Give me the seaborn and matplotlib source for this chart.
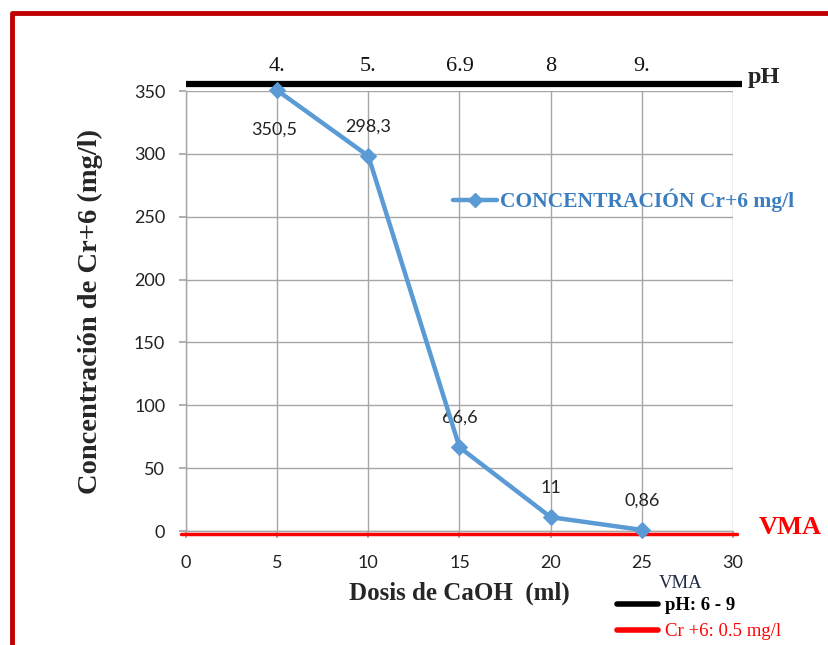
import matplotlib
matplotlib.use("Agg")
import matplotlib.pyplot as plt
import seaborn as sns
import pandas as pd
from matplotlib.lines import Line2D

dosis = [5, 10, 15, 20, 25]
concentracion = [350.5, 298.3, 66.6, 11, 0.86]
etiquetas = ["350,5", "298,3", "66,6", "11", "0,86"]
ph_labels = ["4.", "5.", "6.9", "8", "9."]
x_ticks = [0, 5, 10, 15, 20, 25, 30]
y_ticks = [0, 50, 100, 150, 200, 250, 300, 350]

sns.set_theme(style="white")
plt.rcParams['font.family'] = ['Lato', 'DejaVu Sans']

BLUE = "#5B9BD5"
BLUE_TXT = "#3A7DC0"
SERIF = "Liberation Serif"

fig = plt.figure(figsize=(8.29, 6.45), dpi=100)
ax = fig.add_axes([186/829, 114/645, 547/829, 440/645])

df = pd.DataFrame({"Dosis": dosis, "Conc": concentracion})
sns.lineplot(data=df, x="Dosis", y="Conc", ax=ax, color=BLUE, lw=3.2,
             marker="D", markersize=8, markeredgecolor=BLUE, clip_on=False, zorder=5)

ax.set_xlim(0, 30)
ax.set_ylim(0, 350)
ax.set_xticks(x_ticks)
ax.set_yticks(y_ticks)
ax.grid(True, color="#A6A6A6", lw=1)
for s in ["top", "right"]:
    ax.spines[s].set_visible(False)
for s in ["left", "bottom"]:
    ax.spines[s].set_color("#A6A6A6")
    ax.spines[s].set_linewidth(1)
ax.tick_params(axis="both", which="both", direction="out", length=5, color="#A6A6A6",
               labelsize=13, labelcolor="#222222", left=True, bottom=True)
ax.tick_params(axis="x", pad=12)
ax.tick_params(axis="y", pad=10)
ax.set_xlabel("Dosis de CaOH  (ml)", family=SERIF, fontsize=18, fontweight="bold", labelpad=8)
ax.set_ylabel("Concentración de Cr+6 (mg/l)", family=SERIF, fontsize=20.5, fontweight="bold", labelpad=22)

# data labels
offsets = [(-2, -28), (0, 21), (0, 21.5), (0, 21), (0, 21)]
for x, y, t, (dx, dy) in zip(dosis, concentracion, etiquetas, offsets):
    ax.annotate(t, (x, y), xytext=(dx, dy), textcoords="offset points", annotation_clip=False,
                ha="center", va="center", fontsize=13, color="#222222")

# pH bar on top
ax.plot([0, 30.5], [355.8, 355.8], color="black", lw=4.5, clip_on=False, solid_capstyle="butt")
for x, t in zip(dosis, ph_labels):
    ax.text(x, 362, t, family=SERIF, fontsize=16, ha="center", va="bottom", color="#111111")
ax.text(30.8, 361, "pH", family=SERIF, fontsize=17.5, fontweight="bold", ha="left", va="center")

# VMA red line
ax.plot([-0.3, 30.2], [-2.5, -2.5], color="red", lw=2.5, clip_on=False, zorder=4)
ax.text(31.4, 3, "VMA", family=SERIF, fontsize=19, fontweight="bold", color="red",
        ha="left", va="center")

# series legend
ly = 1 - 200/645
fig.add_artist(Line2D([453/829, 475/829, 497/829], [ly, ly, ly], color=BLUE, lw=3.2,
                      marker="D", markersize=7, markevery=[1], transform=fig.transFigure))
fig.text(500/829, ly, "CONCENTRACIÓN Cr+6 mg/l", family=SERIF, fontsize=15.5,
         fontweight="bold", color=BLUE_TXT, ha="left", va="center")

# VMA legend bottom
fig.text(681/829, 1 - 584/645, "VMA", family=SERIF, fontsize=13.5, color="#1F2A44", ha="center", va="center")
fig.add_artist(Line2D([617/829, 658/829], [1 - 604/645, 1 - 604/645], color="black", lw=4,
                      transform=fig.transFigure))
fig.text(665/829, 1 - 606/645, "pH: 6 - 9", family=SERIF, fontsize=13.5, fontweight="bold",
         color="black", ha="left", va="center")
fig.add_artist(Line2D([617/829, 658/829], [1 - 630/645, 1 - 630/645], color="red", lw=4,
                      transform=fig.transFigure))
fig.text(665/829, 1 - 631/645, "Cr +6: 0.5 mg/l", family=SERIF, fontsize=13.5,
         color="red", ha="left", va="center")

# red frame
fig.add_artist(Line2D([12/829, 12/829, 1.0], [0.0, 1 - 13/645, 1 - 13/645], color="#C00000",
                      lw=3.5, transform=fig.transFigure))

fig.savefig("out.png", dpi=100)
